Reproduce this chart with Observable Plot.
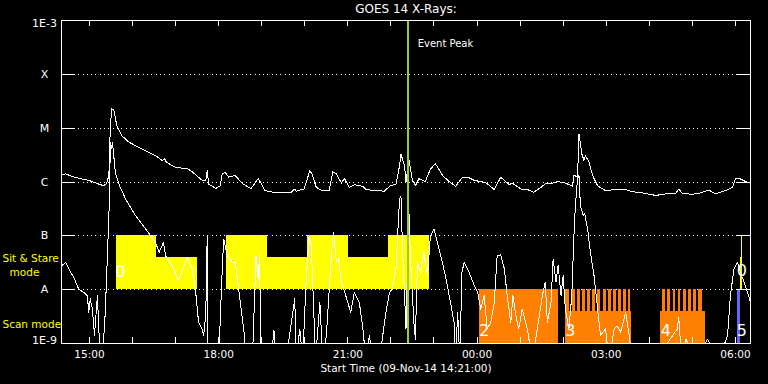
<!DOCTYPE html>
<html><head><meta charset="utf-8">
<script src="https://cdn.jsdelivr.net/npm/d3@7"></script>
<script src="https://cdn.jsdelivr.net/npm/@observablehq/plot@0.6"></script>
<style>html,body{margin:0;padding:0;background:#000;} svg{display:block;}</style>
</head><body><div id="chart"></div>
<script>
// ---------- chart text ----------
const title = "GOES 14 X-Rays:";
const xLabel = "Start Time (09-Nov-14 14:21:00)";
const eventLabel = "Event Peak";
const leftLabels = ["Sit & Stare", "mode", "Scan mode"];

// ---------- axes ----------
const startTime = "14:21";
const endTime = "06:21";
const hourTicks = ["15:00","16:00","17:00","18:00","19:00","20:00","21:00","22:00","23:00","00:00","01:00","02:00","03:00","04:00","05:00","06:00"];
const labeledTicks = ["15:00","18:00","21:00","00:00","03:00","06:00"];
const yTicks = [1e-9, 1e-8, 1e-7, 1e-6, 1e-5, 1e-4, 1e-3];
const yTickLabels = ["1E-9", "A", "B", "C", "M", "X", "1E-3"];
const gridLevels = [1e-8, 1e-7, 1e-6, 1e-5, 1e-4];
const eventPeak = "22:23:24";

// ---------- GOES long channel (1-8 A): [time, log10 flux] ----------
const longSeries = [
["14:22",-5.86],["14:27",-5.85],["14:36",-5.90],["14:45",-5.93],["14:59",-5.97],["15:13",-6.04],["15:20",-6.07],["15:24",-6.02],["15:27",-5.88],["15:29",-4.98],["15:31",-4.64],["15:34",-4.67],["15:38",-4.95],["15:45",-5.14],["15:55",-5.26],["16:09",-5.36],["16:23",-5.45],["16:32",-5.51],["16:41",-5.60],["16:45",-5.57],["16:47",-5.63],["17:00",-5.73],["17:16",-5.75],["17:23",-5.81],["17:37",-5.97],["17:42",-5.97],["17:44",-5.79],["17:46",-6.04],["17:56",-6.12],["18:02",-6.07],["18:05",-5.85],["18:09",-5.82],["18:14",-5.91],["18:23",-5.88],["18:34",-6.04],["18:45",-6.12],["18:55",-5.94],["18:59",-6.02],["19:04",-6.16],["19:20",-6.20],["19:41",-6.19],["19:46",-6.13],["19:48",-6.17],["19:59",-6.13],["20:07",-5.79],["20:10",-5.85],["20:16",-6.10],["20:23",-6.15],["20:34",-6.16],["20:39",-5.81],["20:44",-5.85],["20:51",-6.02],["20:55",-5.93],["21:02",-6.10],["21:09",-6.05],["21:21",-6.08],["21:25",-6.14],["21:39",-6.16],["21:51",-6.17],["21:58",-6.08],["22:07",-6.04],["22:12",-5.70],["22:14",-5.48],["22:19",-5.70],["22:21",-6.01],["22:25",-5.57],["22:30",-5.97],["22:34",-6.07],["22:39",-5.94],["22:48",-5.99],["22:55",-5.76],["23:02",-5.66],["23:12",-5.88],["23:21",-5.99],["23:30",-6.08],["23:40",-5.91],["23:47",-5.91],["23:56",-5.97],["00:12",-6.01],["00:24",-6.14],["00:33",-5.91],["00:38",-5.97],["00:45",-6.05],["00:49",-6.02],["01:01",-6.13],["01:10",-6.14],["01:19",-6.19],["01:29",-6.10],["01:36",-6.02],["01:45",-6.02],["01:52",-5.99],["02:03",-6.02],["02:13",-6.08],["02:15",-5.87],["02:20",-5.91],["02:22",-5.11],["02:26",-5.48],["02:29",-5.60],["02:31",-5.51],["02:36",-5.63],["02:41",-5.88],["02:48",-6.07],["02:59",-6.16],["03:13",-6.14],["03:27",-6.14],["03:36",-6.18],["03:50",-6.20],["04:09",-6.25],["04:23",-6.22],["04:37",-6.21],["04:41",-6.13],["04:46",-6.21],["05:00",-6.23],["05:12",-6.20],["05:23",-6.15],["05:32",-6.22],["05:46",-6.16],["05:56",-6.10],["06:00",-5.94],["06:05",-5.93],["06:14",-5.99],["06:21",-6.02]
];

// ---------- GOES short channel (0.5-4 A): [time, log10 flux] ----------
const shortSeries = [
["14:22",-7.55],["14:27",-7.49],["14:31",-7.61],["14:38",-7.77],["14:45",-7.99],["14:52",-8.05],["14:57",-8.11],["14:59",-8.42],["15:01",-8.17],["15:04",-8.36],["15:07",-8.85],["15:11",-8.11],["15:13",-8.73],["15:15",-9.3],["15:18",-9.3],["15:22",-8.42],["15:26",-7.00],["15:28",-6.25],["15:29",-5.26],["15:31",-5.38],["15:32",-5.26],["15:36",-5.82],["15:41",-6.04],["15:50",-6.31],["16:04",-6.62],["16:18",-6.87],["16:32",-7.12],["16:37",-7.31],["16:43",-7.12],["16:46",-7.37],["16:55",-7.55],["17:04",-7.83],["17:16",-7.40],["17:23",-7.61],["17:28",-8.05],["17:32",-8.61],["17:37",-8.73],["17:39",-8.85],["17:42",-8.48],["17:44",-7.00],["17:45",-9.3],["18:00",-9.3],["18:05",-7.61],["18:07",-7.06],["18:12",-7.37],["18:19",-7.49],["18:23",-7.49],["18:29",-8.11],["18:36",-8.85],["18:38",-9.3],["18:47",-9.3],["18:52",-7.37],["18:55",-7.80],["18:57",-7.37],["18:59",-9.3],["19:13",-9.3],["19:17",-8.76],["19:20",-9.3],["19:34",-9.3],["19:46",-8.17],["19:48",-9.3],["19:53",-8.73],["19:57",-9.3],["20:02",-7.80],["20:06",-7.00],["20:09",-7.18],["20:11",-7.86],["20:15",-9.3],["20:21",-8.24],["20:25",-9.3],["20:30",-8.85],["20:37",-7.37],["20:40",-6.93],["20:44",-7.49],["20:47",-7.43],["20:51",-7.86],["20:57",-8.11],["21:04",-8.42],["21:09",-8.05],["21:16",-8.24],["21:21",-8.73],["21:25",-9.3],["21:30",-8.85],["21:35",-9.3],["21:44",-9.3],["21:53",-8.42],["21:58",-8.05],["22:02",-7.99],["22:07",-7.61],["22:12",-6.31],["22:14",-6.27],["22:16",-7.18],["22:19",-8.11],["22:21",-8.73],["22:25",-6.50],["22:27",-7.37],["22:32",-8.61],["22:34",-8.92],["22:37",-7.49],["22:41",-7.68],["22:46",-7.31],["22:51",-7.74],["22:55",-7.00],["23:00",-6.87],["23:07",-7.24],["23:16",-7.74],["23:23",-8.24],["23:28",-8.61],["23:30",-9.3],["23:33",-8.42],["23:36",-9.3],["23:39",-7.68],["23:42",-7.49],["23:49",-7.68],["23:56",-7.92],["00:01",-8.05],["00:05",-8.36],["00:10",-8.11],["00:14",-8.73],["00:19",-8.61],["00:24",-8.24],["00:28",-7.37],["00:33",-7.35],["00:38",-7.61],["00:42",-8.11],["00:47",-8.61],["00:50",-8.11],["00:54",-8.48],["00:58",-8.73],["01:03",-8.36],["01:10",-8.73],["01:17",-9.3],["01:24",-8.73],["01:31",-8.11],["01:35",-7.86],["01:38",-8.61],["01:43",-8.24],["01:46",-7.43],["01:50",-7.86],["01:53",-7.55],["01:57",-8.11],["02:00",-7.74],["02:03",-8.36],["02:08",-8.73],["02:12",-8.11],["02:15",-7.00],["02:17",-6.44],["02:20",-5.94],["02:22",-5.88],["02:24",-6.44],["02:28",-6.62],["02:30",-6.59],["02:34",-6.87],["02:38",-7.31],["02:43",-7.74],["02:48",-8.36],["02:52",-8.85],["02:59",-8.73],["03:04",-9.3],["03:11",-8.73],["03:15",-8.67],["03:20",-8.79],["03:27",-8.42],["03:32",-8.85],["03:36",-9.3],["04:09",-9.3],["04:39",-8.73],["04:41",-8.51],["04:45",-9.3],["04:51",-8.92],["05:05",-9.3],["05:21",-8.92],["05:37",-9.3],["05:49",-8.85],["05:53",-8.11],["05:58",-7.61],["06:03",-7.49],["06:07",-7.68],["06:12",-7.86],["06:17",-8.05],["06:21",-8.24]
];

// ---------- IRIS observing modes ----------
// Sit & Stare: [start, end, top flux]  (bottom at A level)
const sitStare = [
["15:37","16:34",1e-7],["16:34","17:30",4e-8],
["18:11","19:08",1e-7],["19:08","20:04",4e-8],["20:04","21:01",1e-7],["21:01","21:57",4e-8],["21:57","22:54",1e-7]
];
// Scan mode, full height blocks [start, end]
const scanFull = [["00:03:42","01:53:18"]];
// Scan mode, low base blocks [start, end]
const scanBase = [["02:03:30","03:34:30"],["04:16:12","05:18:54"]];
const scanBaseTop = 4e-9;
// Scan mode raster stripes [start, end]
const scanStripes = [
["02:03:30","02:09:30"],["02:13:10","02:17:00"],["02:19:50","02:24:00"],["02:27:10","02:30:50"],["02:34:10","02:38:20"],["02:41:30","02:45:20"],["02:48:30","02:52:10"],["02:56:00","02:59:40"],["03:03:00","03:06:40"],["03:10:00","03:13:40"],["03:16:50","03:21:10"],["03:23:50","03:28:00"],["03:30:20","03:34:10"],
["04:19:00","04:22:50"],["04:26:00","04:29:50"],["04:33:30","04:36:40"],["04:40:30","04:43:40"],["04:47:50","04:51:10"],["04:54:50","04:58:40"],["05:02:10","05:05:40"],["05:09:10","05:13:50"]
];
const otherBlue = [["06:03:06","06:06:48"]];
const otherYellowThick = [["06:06:48","06:09:36"]];
const otherYellowThin = [["06:08:12","06:09:36"]];
// block number labels [time, flux, text]
const blockLabels = [["15:43",2.1e-8,"0"],["00:10",1.7e-9,"2"],["02:10",1.7e-9,"3"],["04:23",1.7e-9,"4"],["06:09",1.7e-9,"5"],["06:09",2.2e-8,"0"]];

// ---------- helpers ----------
function T(s) {
  const [h, m, sec = 0] = s.split(":").map(Number);
  const day = h < 12 ? 10 : 9;
  return new Date(Date.UTC(2014, 10, day, h, m, sec));
}
const yLabelMap = new Map(yTicks.map((v, i) => [v, yTickLabels[i]]));
const longData = longSeries.map(([t, v]) => ({t: T(t), f: Math.pow(10, v)}));
const shortData = shortSeries.map(([t, v]) => ({t: T(t), f: Math.pow(10, v)}));

const W = 768, H = 384, ML = 61, MR = 18, MT = 20, MB = 41;
const PW = W - ML - MR, PH = H - MT - MB;
const white = "#ffffff", yellow = "#ffff00", orange = "#ff8000";
const crisp = "crispEdges";

const chart = Plot.plot({
  width: W, height: H,
  marginLeft: ML, marginRight: MR, marginTop: MT, marginBottom: MB,
  style: {background: "#000", color: white, fontFamily: "DejaVu Sans", fontSize: "10px"},
  x: {type: "utc", domain: [T(startTime), T(endTime)], axis: null},
  y: {type: "log", domain: [1e-9, 1e-3], axis: null},
  marks: [
    Plot.ruleY(gridLevels, {y: d => d, stroke: white, strokeDasharray: "1,3.3", shapeRendering: crisp}),
    Plot.rect(sitStare, {x1: d => T(d[0]), x2: d => T(d[1]), y1: 1e-8, y2: d => d[2], fill: yellow, shapeRendering: crisp}),
    Plot.rect(scanFull, {x1: d => T(d[0]), x2: d => T(d[1]), y1: 1e-9, y2: 1e-8, fill: orange, shapeRendering: crisp}),
    Plot.rect(scanBase, {x1: d => T(d[0]), x2: d => T(d[1]), y1: 1e-9, y2: scanBaseTop, fill: orange, shapeRendering: crisp}),
    Plot.rect(scanStripes, {x1: d => T(d[0]), x2: d => T(d[1]), y1: 1e-9, y2: 1e-8, fill: orange, shapeRendering: crisp}),
    Plot.rect(otherBlue, {x1: d => T(d[0]), x2: d => T(d[1]), y1: 1e-9, y2: 1e-8, fill: "#6464ff", shapeRendering: crisp}),
    Plot.rect(otherYellowThick, {x1: d => T(d[0]), x2: d => T(d[1]), y1: 1e-8, y2: 4e-8, fill: yellow, shapeRendering: crisp}),
    Plot.rect(otherYellowThin, {x1: d => T(d[0]), x2: d => T(d[1]), y1: 1e-8, y2: 1e-7, fill: yellow, shapeRendering: crisp}),
    Plot.line(shortData, {x: "t", y: "f", stroke: white, strokeWidth: 1, clip: true, shapeRendering: crisp}),
    Plot.line(longData, {x: "t", y: "f", stroke: white, strokeWidth: 1, clip: true, shapeRendering: crisp}),
    Plot.ruleX([T(eventPeak)], {x: d => d, stroke: "#9acd32", strokeWidth: 2, shapeRendering: crisp}),
    Plot.text([T(eventPeak)], {x: d => d, text: () => eventLabel, frameAnchor: "top", lineAnchor: "middle", dy: 23, dx: 10, textAnchor: "start", fill: white, fontSize: 10}),
    Plot.text(blockLabels, {x: d => T(d[0]), y: d => d[1], text: d => d[2], fill: white, fontSize: 16}),
    Plot.frame({stroke: white, shapeRendering: crisp}),
    // long y ticks, left and right
    Plot.tickY(yTicks, {y: d => d, stroke: white, insetRight: PW - 14, shapeRendering: crisp}),
    Plot.tickY(yTicks, {y: d => d, stroke: white, insetLeft: PW - 14, shapeRendering: crisp}),
    // hour ticks, bottom and top
    Plot.tickX(hourTicks.map(T), {x: d => d, stroke: white, insetTop: PH - 6, shapeRendering: crisp}),
    Plot.tickX(hourTicks.map(T), {x: d => d, stroke: white, insetBottom: PH - 6, shapeRendering: crisp}),
    // axis labels
    Plot.axisX(labeledTicks.map(T), {anchor: "bottom", tickSize: 0, tickPadding: 7, tickFormat: d3.utcFormat("%H:%M"), fontSize: 10.5, label: null}),
    Plot.axisY(yTicks.slice(1, -1), {anchor: "left", tickSize: 0, tickPadding: 17, textAnchor: "middle", tickFormat: d => yLabelMap.get(d), fontSize: 11, label: null}),
    Plot.axisY([1e-3], {anchor: "left", tickSize: 0, tickPadding: 17, textAnchor: "middle", tickFormat: d => yLabelMap.get(d), fontSize: 11, dy: 3, label: null}),
    Plot.axisY([1e-9], {anchor: "left", tickSize: 0, tickPadding: 17, textAnchor: "middle", tickFormat: d => yLabelMap.get(d), fontSize: 11, dy: -3, label: null}),
    // titles
    Plot.text([title], {frameAnchor: "top", lineAnchor: "middle", dy: -11, fontSize: 12, fill: white}),
    Plot.text([xLabel], {frameAnchor: "bottom", lineAnchor: "middle", dy: 25, fontSize: 10.5, fill: white}),
    Plot.text([leftLabels[0]], {frameAnchor: "top-left", lineAnchor: "middle", dx: -59, dy: 238, textAnchor: "start", fontSize: 10.5, fill: yellow}),
    Plot.text([leftLabels[1]], {frameAnchor: "top-left", lineAnchor: "middle", dx: -37, dy: 252, textAnchor: "middle", fontSize: 10.5, fill: yellow}),
    Plot.text([leftLabels[2]], {frameAnchor: "top-left", lineAnchor: "middle", dx: -59, dy: 304, textAnchor: "start", fontSize: 10.5, fill: yellow})
  ]
});
document.getElementById("chart").appendChild(chart);
</script>
</body></html>
